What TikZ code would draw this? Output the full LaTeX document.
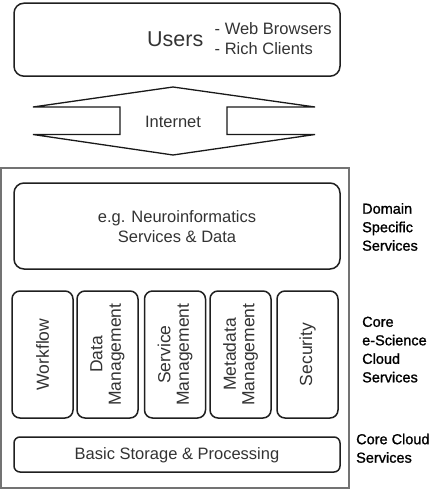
\documentclass[tikz,border=0pt]{standalone}
\usepackage{fontspec}
\setmainfont{Liberation Sans}
\newfontfamily\captionface[FakeBold=1.2]{Liberation Sans}
\begin{document}
\begin{tikzpicture}[x=1pt,y=-1pt,
  box/.style={draw=black!88,line width=1.5pt,rounded corners=#1,inner sep=0pt},
  box/.default=10pt,
  boxtext/.style={text=black!80,font=\fontsize{16.5}{19.5}\selectfont,align=center,inner sep=0pt},
  colbox/.style={box=8pt,minimum width=61pt,minimum height=127pt},
  coltext/.style={text=black!80,font=\fontsize{17.5}{18.5}\selectfont,align=center,rotate=90,inner sep=0pt},
  layer/.style={font=\captionface\fontsize{14.5}{18.5}\selectfont,align=left,anchor=north west,inner sep=0pt},
  pipe/.style={draw=black!90,line width=1.3pt,line join=miter}
]
\useasboundingbox (0,0) rectangle (431,497);

% user side
\node[box,minimum width=326pt,minimum height=73pt] (users) at (177,39.7) {};
\node[boxtext,font=\fontsize{21.5}{24}\selectfont,anchor=base west] (userslabel) at (147,47) {Users};
\node[boxtext,anchor=base west] (browsers) at (214.5,35) {- Web Browsers};
\node[boxtext,anchor=base west] (clients) at (214.5,55) {- Rich Clients};

% two-headed Internet arrow
\coordinate (uptip) at (173,87);
\coordinate (downtip) at (173,155);
\draw[pipe] (uptip) -- (33,107) -- (120,107) -- (120,134.5) -- (33,134.5)
  -- (downtip) -- (315,134.5) -- (227,134.5) -- (227,107) -- (315,107) -- cycle;
\node[boxtext] (internet) at (173,122) {Internet};

% cloud platform
\node[draw=black!55,line width=1.2pt,minimum width=348pt,minimum height=320pt,inner sep=0pt] (cloud) at (175,328) {};

\node[box,minimum width=326pt,minimum height=86pt] (domain) at (177,226) {};
\node[boxtext] (domaintext) at (177,226.5) {e.g. Neuroinformatics\\Services \& Data};

\node[colbox] (workflow) at (42.5,354.5) {};
\node[coltext] at (workflow.center) {Workflow};
\node[colbox] (datamgmt) at (107.5,354.5) {};
\node[coltext] at (datamgmt.center) {Data\\Management};
\node[colbox] (servmgmt) at (175,354.5) {};
\node[coltext] at (servmgmt.center) {Service\\Management};
\node[colbox] (metamgmt) at (240.5,354.5) {};
\node[coltext] at (metamgmt.center) {Metadata\\Management};
\node[colbox] (security) at (307.5,354.5) {};
\node[coltext] at (security.center) {Security};

\node[box=6pt,minimum width=326pt,minimum height=35pt] (storage) at (177,454.5) {};
\node[boxtext] (storagetext) at (177,455) {Basic Storage \& Processing};

% layer captions
\node[layer] (domaincap) at (362,203) {Domain\\Specific\\Services};
\node[layer] (corecap) at (362,316.5) {Core\\e-Science\\Cloud\\Services};
\node[layer] (cloudcap) at (356,433.5) {Core Cloud\\Services};
\end{tikzpicture}
\end{document}
